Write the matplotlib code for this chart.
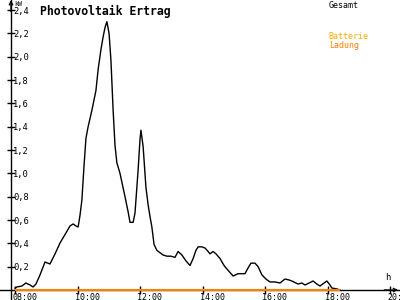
import matplotlib
matplotlib.use('Agg')
import matplotlib.pyplot as plt
from matplotlib.transforms import ScaledTranslation

# --- data -------------------------------------------------------------
hours = [8.00, 8.06, 8.22, 8.35, 8.48, 8.58, 8.67, 8.80, 8.96, 9.12, 9.28, 9.44,
         9.63, 9.76, 9.86, 9.95, 10.02, 10.08, 10.14, 10.21, 10.27, 10.34, 10.46,
         10.59, 10.66, 10.75, 10.82, 10.88, 10.94, 11.01, 11.07, 11.14, 11.20,
         11.26, 11.36, 11.52, 11.62, 11.68, 11.78, 11.84, 11.94, 12.00, 12.03,
         12.10, 12.19, 12.26, 12.32, 12.38, 12.45, 12.54, 12.64, 12.74, 12.86,
         12.99, 13.12, 13.22, 13.34, 13.47, 13.60, 13.70, 13.79, 13.86, 13.98,
         14.08, 14.18, 14.24, 14.34, 14.43, 14.56, 14.69, 14.78, 14.88, 14.98,
         15.14, 15.36, 15.46, 15.55, 15.68, 15.78, 15.90, 16.03, 16.16, 16.32,
         16.48, 16.64, 16.77, 16.86, 17.06, 17.18, 17.28, 17.41, 17.54, 17.66,
         17.76, 17.89, 17.98, 18.08, 18.14, 18.30, 18.40]
gesamt = [0.017, 0.026, 0.034, 0.060, 0.043, 0.026, 0.051, 0.129, 0.240, 0.223,
          0.309, 0.403, 0.489, 0.549, 0.566, 0.549, 0.540, 0.640, 0.770, 1.070,
          1.300, 1.400, 1.540, 1.710, 1.890, 2.060, 2.170, 2.250, 2.300, 2.200,
          1.970, 1.540, 1.240, 1.090, 1.000, 0.800, 0.670, 0.580, 0.580, 0.660,
          1.030, 1.290, 1.370, 1.230, 0.880, 0.730, 0.630, 0.540, 0.390, 0.340,
          0.320, 0.300, 0.290, 0.290, 0.280, 0.330, 0.300, 0.250, 0.210, 0.270,
          0.340, 0.370, 0.370, 0.360, 0.330, 0.310, 0.330, 0.310, 0.270, 0.210,
          0.180, 0.150, 0.120, 0.140, 0.140, 0.190, 0.230, 0.230, 0.200, 0.130,
          0.094, 0.069, 0.069, 0.060, 0.094, 0.086, 0.077, 0.051, 0.060, 0.043,
          0.060, 0.077, 0.051, 0.034, 0.060, 0.077, 0.043, 0.017, 0.009, 0.000]
ladung_hours = [8.00, 18.40]
ladung = [0.0, 0.0]

y_ticks = [0.2, 0.4, 0.6, 0.8, 1.0, 1.2, 1.4, 1.6, 1.8, 2.0, 2.2, 2.4]
y_tick_labels = ['0,2', '0,4', '0,6', '0,8', '1,0', '1,2', '1,4', '1,6',
                 '1,8', '2,0', '2,2', '2,4']
x_ticks = [8, 10, 12, 14, 16, 18, 20]
x_tick_labels = ['08:00', '10:00', '12:00', '14:00', '16:00', '18:00', '20:00']

# --- figure -----------------------------------------------------------
MONO = 'DejaVu Sans Mono'
fig = plt.figure(figsize=(4, 3), dpi=100)
fig.patch.set_facecolor('white')
ax = fig.add_axes([0, 0, 1, 1])
ax.set_facecolor('white')

x0, x1 = 7.52, 20.32
y0, y1 = -0.0857, 2.486
ax.set_xlim(x0, x1)
ax.set_ylim(y0, y1)
yaxis_x = 7.872

for s in ['top', 'right']:
    ax.spines[s].set_visible(False)
ax.spines['left'].set_position(('data', yaxis_x))
ax.spines['bottom'].set_position(('data', 0))
ax.spines['left'].set_linewidth(1.0)
ax.spines['bottom'].set_linewidth(1.0)

ax.set_yticks(y_ticks, y_tick_labels)
ax.set_xticks(x_ticks, x_tick_labels)
ax.tick_params(axis='y', direction='inout', length=6, width=1, pad=-4.5,
               labelsize=6.3)
ax.tick_params(axis='x', direction='inout', length=6, width=1, pad=-1.2,
               labelsize=6.0)
for lab in ax.get_yticklabels():
    lab.set_ha('left')
    lab.set_family(MONO)
shift = ScaledTranslation(-3 / 100, 0, fig.dpi_scale_trans)
for lab in ax.get_xticklabels():
    lab.set_ha('left')
    lab.set_family(MONO)
    lab.set_transform(lab.get_transform() + shift)

# arrows on the axes
ax.annotate('', xy=(yaxis_x, y1), xytext=(yaxis_x, y1 - 0.1),
            arrowprops=dict(arrowstyle='->', lw=1, color='black',
                            shrinkA=0, shrinkB=0, mutation_scale=6),
            annotation_clip=False)
ax.annotate('', xy=(x1 - 0.06, 0), xytext=(x1 - 0.5, 0),
            arrowprops=dict(arrowstyle='->', lw=1, color='black',
                            shrinkA=0, shrinkB=0, mutation_scale=6),
            annotation_clip=False)

# series
ax.plot(hours, gesamt, color='black', lw=1.0, zorder=3)
ax.plot(ladung_hours, ladung, color='#ff8000', lw=1.5, zorder=4,
        solid_capstyle='butt')

# texts
ax.text(0.10, 0.985, 'Photovoltaik Ertrag', transform=ax.transAxes,
        family=MONO, fontweight='bold', fontsize=8.3, va='top', ha='left')
ax.text(0.035, 0.995, 'kW', transform=ax.transAxes, family=MONO,
        fontsize=4.8, va='top', ha='left')
ax.text(0.962, 0.075, 'h', transform=ax.transAxes, family=MONO,
        fontsize=6.3, va='center', ha='left')
ax.text(0.822, 0.995, 'Gesamt', transform=ax.transAxes, family=MONO,
        fontsize=6.0, va='top', ha='left', color='black')
ax.text(0.822, 0.893, 'Batterie', transform=ax.transAxes, family=MONO,
        fontsize=6.0, va='top', ha='left', color='#ffaa00')
ax.text(0.822, 0.865, 'Ladung', transform=ax.transAxes, family=MONO,
        fontsize=6.0, va='top', ha='left', color='#ff8000')

fig.savefig('out.png', dpi=100, facecolor='white')
